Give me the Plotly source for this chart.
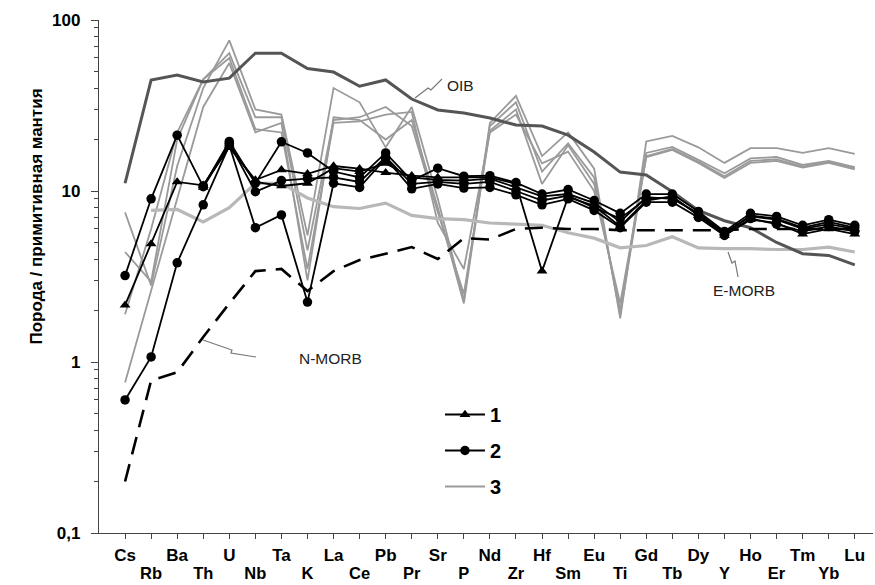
import plotly.graph_objects as go

elements = ["Cs", "Rb", "Ba", "Th", "U", "Nb", "Ta", "K", "La", "Ce", "Pb", "Pr", "Sr", "P",
            "Nd", "Zr", "Hf", "Sm", "Eu", "Ti", "Gd", "Tb", "Dy", "Y", "Ho", "Er", "Tm", "Yb", "Lu"]

# Reference compositions (normalised to primitive mantle)
oib = [11.1, 44.6, 47.7, 43.4, 45.7, 64, 64, 52, 49.6, 41, 44.6, 34.5, 29.8, 28.6, 26.7, 24.3,
       24.0, 21.2, 16.9, 12.9, 12.4, 9.9, 7.7, 6.7, 6.1, 5.0, 4.3, 4.2, 3.7]
e_morb = [None, 7.7, 7.8, 6.6, 8.0, 11.1, 11.1, 9.1, 8.1, 7.9, 8.5, 7.2, 6.9, 6.8, 6.5, 6.4,
          6.3, 5.7, 5.3, 4.65, 4.8, 5.4, 4.65, 4.6, 4.6, 4.55, 4.55, 4.7, 4.4]
n_morb = [0.2, 0.78, 0.87, 1.4, 2.2, 3.4, 3.5, 2.6, 3.4, 3.95, 4.3, 4.7, 4.0, 5.3, 5.2, 6.0,
          6.1, 6.0, 6.0, 5.9, 5.9, 5.9, 5.9, 5.9, 6.0, 6.0, 6.0, 6.0, 6.0]

# Group 1 (triangles)
grp1 = [
    [2.15, 4.9, 11.3, 10.8, 18, 11.6, 13.3, 12.6, 14, 13.5, 12.8, 12.3, 12.0, 12.0, 12.0, 11.0,
     3.4, 9.2, 8.2, 6.2, 8.8, 9.3, 7.2, 5.5, 6.8, 6.5, 5.6, 6.0, 5.6],
    [None, None, None, 10.5, 18.5, 11.3, 10.7, 11.1, 13.6, 13.0, 14.5, 12.0, 11.6, 11.5, 11.8, 10.5,
     9.3, 9.6, 8.5, 6.6, 9.2, 9.0, 7.4, 5.7, 7.1, 6.8, 6.0, 6.4, 6.0],
]
# Group 2 (circles)
grp2 = [
    [3.2, 9.0, 21.2, 10.6, 19.5, 11.1, 19.4, 16.7, 13.0, 12.0, 16.7, 11.5, 13.6, 12.2, 12.3, 11.2,
     9.6, 10.2, 8.8, 7.4, 9.6, 9.6, 7.6, 5.8, 7.4, 7.1, 6.3, 6.8, 6.3],
    [0.6, 1.07, 3.8, 8.3, 18.5, 6.1, 7.25, 2.24, 11.1, 10.5, 15.5, 10.3, 11.0, 10.4, 10.5, 9.5,
     8.3, 9.0, 7.7, 6.1, 8.6, 8.6, 7.0, 5.5, 6.9, 6.4, 5.8, 6.2, 5.8],
    [None, None, None, 10.7, 19.0, 9.9, 11.5, 11.8, 12.0, 11.3, 15.8, 11.0, 11.3, 11.0, 11.3, 10.0,
     8.8, 9.4, 8.0, 6.9, 9.0, 9.2, 7.3, 5.6, 7.2, 6.9, 6.1, 6.6, 6.1],
]
# Group 3 (grey lines)
grp3 = [
    [7.5, 2.8, 14, 40, 76, 30, 28, 5.5, 40, 33, 18, 31, 9, 2.3, 25, 36,
     16, 22, 13.5, 1.8, 19.5, 21, 18, 14.6, 17.8, 17.8, 16.7, 17.8, 16.5],
    [4.4, 2.95, 20, 45, 64, 27, 27, 4.5, 26, 27, 31, 24, 7.5, 2.5, 22.5, 30,
     11, 18.5, 11, 2.0, 16.7, 18.1, 15.2, 12.7, 15.5, 15.8, 14.2, 15, 13.8],
    [1.9, 6.0, 22, 45, 60, 23, 22, 3.5, 25, 25.5, 28, 29, 6.5, 3.5, 22, 28,
     14.5, 17, 10, 2.2, 15.8, 17.4, 14.6, 11.9, 14.6, 15, 13.7, 14.6, 13.4],
    [0.76, 2.6, 9, 31, 56, 22, 25, 3.0, 27, 26, 20, 26, 8, 2.2, 24, 33,
     13, 19, 12, 1.9, 16, 17.6, 14.8, 12.2, 15, 15.3, 13.9, 14.8, 13.6],
]

legend_names = ["1", "2", "3"]
x = list(range(len(elements)))

FONT = "Liberation Sans, Arial, sans-serif"

# pixel geometry of plot area
L, R, T, B = 99, 2, 20, 52
W, H = 875, 585
PW, PH = W - L - R, H - T - B


def pp(px, py):
    return (px - L) / PW, (H - B - py) / PH


fig = go.Figure()

for i, ys in enumerate(grp3):
    fig.add_trace(go.Scatter(x=x, y=ys, mode="lines", line=dict(color="#9a9a9a", width=1.8),
                             name=legend_names[2], legendgroup="g3", legendrank=3,
                             showlegend=(i == 0), hoverinfo="skip"))

fig.add_trace(go.Scatter(x=x, y=e_morb, mode="lines", line=dict(color="#b8b8b8", width=3.2),
                         showlegend=False, name="E-MORB"))
fig.add_trace(go.Scatter(x=x, y=oib, mode="lines", line=dict(color="#555555", width=3),
                         showlegend=False, name="OIB"))
fig.add_trace(go.Scatter(x=x, y=n_morb, mode="lines",
                         line=dict(color="black", width=2.6, dash="18px,10px"),
                         showlegend=False, name="N-MORB"))

for i, ys in enumerate(grp2):
    fig.add_trace(go.Scatter(x=x, y=ys, mode="lines+markers", line=dict(color="black", width=1.8),
                             marker=dict(symbol="circle", size=9.5, color="black"),
                             name=legend_names[1], legendgroup="g2", legendrank=2,
                             showlegend=(i == 0)))
for i, ys in enumerate(grp1):
    fig.add_trace(go.Scatter(x=x, y=ys, mode="lines+markers", line=dict(color="black", width=1.8),
                             marker=dict(symbol="triangle-up", size=9.5, color="black"),
                             name=legend_names[0], legendgroup="g1", legendrank=1,
                             showlegend=(i == 0)))

# invisible trace for the secondary (lower row) tick-label axis
fig.add_trace(go.Scatter(x=[None], y=[None], xaxis="x2", showlegend=False, hoverinfo="skip"))

top_text = [el if i % 2 == 0 else "" for i, el in enumerate(elements)]
odd_vals = [i for i in x if i % 2 == 1]
odd_text = [elements[i] for i in odd_vals]

minor_vals = [m * 10 ** e for e in (-1, 0, 1) for m in range(2, 10)]

fig.update_layout(
    width=W, height=H,
    margin=dict(l=L, r=R, t=T, b=B),
    paper_bgcolor="white", plot_bgcolor="white",
    font=dict(family=FONT, color="black"),
    xaxis=dict(range=[-1, 28.7], tickmode="array", tickvals=x, ticktext=top_text,
               ticks="outside", ticklen=5, tickcolor="#444", tickwidth=1, automargin=False,
               showline=True, linecolor="#444", linewidth=1.3, showgrid=False, zeroline=False,
               tickfont=dict(size=17, weight="bold", family=FONT), ticklabelstandoff=1),
    xaxis2=dict(range=[-1, 28.7], overlaying="x", anchor="y", side="bottom", automargin=False,
                tickmode="array", tickvals=odd_vals, ticktext=odd_text, ticks="",
                showline=False, showgrid=False, zeroline=False,
                tickfont=dict(size=16.5, weight="bold", family=FONT), ticklabelstandoff=28),
    yaxis=dict(type="log", range=[-1, 2], tickmode="array", tickvals=[0.1, 1, 10, 100],
               ticktext=["0,1", "1", "10", "100"], ticks="outside", ticklen=7,
               tickcolor="#444", showline=True, linecolor="#444", linewidth=1.3,
               showgrid=False, zeroline=False, automargin=False,
               tickfont=dict(size=17, weight="bold", family=FONT), ticklabelstandoff=7,
               minor=dict(tickmode="array", tickvals=minor_vals, ticks="outside", ticklen=4,
                          tickcolor="#444", showgrid=False)),
    legend=dict(x=pp(440, 0)[0], y=pp(0, 395)[1], xanchor="left", yanchor="top",
                traceorder="grouped", tracegroupgap=7, bgcolor="rgba(0,0,0,0)",
                font=dict(size=20, weight="bold", family=FONT), itemwidth=40),
    showlegend=True,
)

# labels for reference curves
labels = [("OIB", 460, 75), ("E-MORB", 777, 290), ("N-MORB", 297, 358)]
for txt, px, py in labels:
    ax_, ay_ = pp(px, py)
    fig.add_annotation(x=ax_, y=ay_, xref="paper", yref="paper", text=txt, showarrow=False,
                       font=dict(size=15.5, family=FONT, color="#222"))

leaders = [
    [(415, 98), (428, 88), (431, 90), (442, 79)],
    [(728, 252), (732, 263), (735, 261), (738, 277)],
    [(203, 340), (232, 350), (231, 353), (256, 357)],
]
for pts in leaders:
    path = ""
    for k, (px, py) in enumerate(pts):
        a, b = pp(px, py)
        path += ("M" if k == 0 else "L") + f"{a:.4f},{b:.4f} "
    fig.add_shape(type="path", path=path.strip(), xref="paper", yref="paper",
                  line=dict(color="#777", width=1.2))

ya, yb = pp(24, 217)
fig.add_annotation(x=ya, y=yb, xref="paper", yref="paper", text="Порода / примитивная мантия",
                   textangle=-90, showarrow=False,
                   font=dict(size=17, weight="bold", family=FONT, color="black"))

fig.write_html("out.html")
